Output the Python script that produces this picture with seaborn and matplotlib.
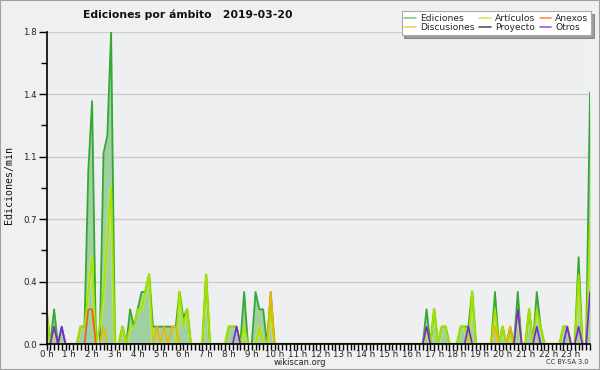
import numpy as np
import pandas as pd
import matplotlib
matplotlib.use("Agg")
import matplotlib.pyplot as plt
from matplotlib.patches import Rectangle
from matplotlib.lines import Line2D
from matplotlib.ticker import FixedLocator, MultipleLocator
import seaborn as sns

# 10-minute buckets, 6 per hour (values = ediciones por minuto)
ediciones = [
    0.2, 0.0, 0.2, 0.0, 0.1, 0.0,     # 0 h
    0.0, 0.0, 0.0, 0.1, 0.1, 1.0,     # 1 h
    1.4, 0.0, 0.0, 1.1, 1.2, 1.8,     # 2 h
    0.0, 0.0, 0.1, 0.0, 0.2, 0.1,     # 3 h
    0.2, 0.3, 0.3, 0.4, 0.1, 0.1,     # 4 h
    0.1, 0.1, 0.1, 0.1, 0.1, 0.3,     # 5 h
    0.15, 0.2, 0.0, 0.0, 0.0, 0.0,    # 6 h
    0.4, 0.0, 0.0, 0.0, 0.0, 0.0,     # 7 h
    0.1, 0.1, 0.1, 0.0, 0.3, 0.0,     # 8 h
    0.0, 0.3, 0.2, 0.2, 0.0, 0.3,     # 9 h
    0.0, 0.0, 0.0, 0.0, 0.0, 0.0,     # 10 h
    0.0, 0.0, 0.0, 0.0, 0.0, 0.0,     # 11 h
    0.0, 0.0, 0.0, 0.0, 0.0, 0.0,     # 12 h
    0.0, 0.0, 0.0, 0.0, 0.0, 0.0,     # 13 h
    0.0, 0.0, 0.0, 0.0, 0.0, 0.0,     # 14 h
    0.0, 0.0, 0.0, 0.0, 0.0, 0.0,     # 15 h
    0.0, 0.0, 0.0, 0.0, 0.2, 0.0,     # 16 h
    0.2, 0.0, 0.1, 0.1, 0.0, 0.0,     # 17 h
    0.0, 0.1, 0.1, 0.1, 0.3, 0.0,     # 18 h
    0.0, 0.0, 0.0, 0.0, 0.3, 0.0,     # 19 h
    0.1, 0.0, 0.1, 0.0, 0.3, 0.0,     # 20 h
    0.0, 0.2, 0.0, 0.3, 0.1, 0.0,     # 21 h
    0.0, 0.0, 0.0, 0.0, 0.1, 0.1,     # 22 h
    0.0, 0.0, 0.5, 0.0, 0.0, 1.45,    # 23 h
]
articulos = [
    0.2, 0.0, 0.1, 0.0, 0.0, 0.0,
    0.0, 0.0, 0.0, 0.1, 0.1, 0.3,
    0.5, 0.0, 0.1, 0.3, 0.6, 0.9,
    0.0, 0.0, 0.1, 0.0, 0.1, 0.1,
    0.2, 0.2, 0.3, 0.4, 0.0, 0.0,
    0.0, 0.0, 0.0, 0.0, 0.0, 0.3,
    0.1, 0.2, 0.0, 0.0, 0.0, 0.0,
    0.4, 0.0, 0.0, 0.0, 0.0, 0.0,
    0.1, 0.1, 0.1, 0.0, 0.1, 0.0,
    0.0, 0.0, 0.1, 0.0, 0.0, 0.2,
    0.0, 0.0, 0.0, 0.0, 0.0, 0.0,
    0.0, 0.0, 0.0, 0.0, 0.0, 0.0,
    0.0, 0.0, 0.0, 0.0, 0.0, 0.0,
    0.0, 0.0, 0.0, 0.0, 0.0, 0.0,
    0.0, 0.0, 0.0, 0.0, 0.0, 0.0,
    0.0, 0.0, 0.0, 0.0, 0.0, 0.0,
    0.0, 0.0, 0.0, 0.0, 0.1, 0.0,
    0.2, 0.0, 0.1, 0.1, 0.0, 0.0,
    0.0, 0.1, 0.1, 0.0, 0.3, 0.0,
    0.0, 0.0, 0.0, 0.0, 0.2, 0.0,
    0.1, 0.0, 0.05, 0.0, 0.2, 0.0,
    0.0, 0.2, 0.0, 0.2, 0.1, 0.0,
    0.0, 0.0, 0.0, 0.0, 0.1, 0.1,
    0.0, 0.0, 0.4, 0.0, 0.0, 0.7,
]
anexos_idx = [11, 12]
anexos_val = [0.2, 0.2]
discusiones_idx = [15, 29, 31, 33, 34, 59, 118, 122]
discusiones_val = [0.1, 0.1, 0.1, 0.1, 0.1, 0.3, 0.1, 0.1]
proyecto_idx = []
proyecto_val = []
otros_idx = [2, 4, 50, 100, 111, 124, 129, 137, 140, 143]
otros_val = [0.1, 0.1, 0.1, 0.1, 0.1, 0.2, 0.1, 0.1, 0.1, 0.3]

hour_labels = [f"{h} h" for h in range(24)]
y_ticks = [0.0, 0.36, 0.72, 1.08, 1.44, 1.8]
y_labels = ["0.0", "0.4", "0.7", "1.1", "1.4", "1.8"]

n = len(ediciones)
idx = np.arange(n)

def sparse(ix, vals):
    arr = np.zeros(n)
    for i, v in zip(ix, vals):
        arr[i] = v
    return arr

series = {
    "Ediciones": np.array(ediciones),
    "Artículos": np.array(articulos),
    "Anexos": sparse(anexos_idx, anexos_val),
    "Discusiones": sparse(discusiones_idx, discusiones_val),
    "Proyecto": sparse(proyecto_idx, proyecto_val),
    "Otros": sparse(otros_idx, otros_val),
}
colors = {
    "Ediciones": "#33a833",
    "Artículos": "#a8e000",
    "Anexos": "#f05a1e",
    "Discusiones": "#f0b400",
    "Proyecto": "#505050",
    "Otros": "#7a22e0",
}
legend_colors = {
    "Ediciones": "#88cc88",
    "Artículos": "#cdee55",
    "Anexos": "#ff8855",
    "Discusiones": "#ffd04a",
    "Proyecto": "#555555",
    "Otros": "#9a55ee",
}

sns.set_theme(style="white")
plt.rcParams["font.family"] = ["DejaVu Sans"]

fig = plt.figure(figsize=(6, 3.7), dpi=100, facecolor="#f0f0f0")
ax = fig.add_axes([46.5 / 600, 1 - 344 / 370, (590 - 46.5) / 600, (344 - 31.7) / 370])
ax.set_facecolor("#eeeff1")

ax.fill_between(idx, series["Ediciones"], 0, color="#a0cfa0", lw=0, zorder=1)

df = pd.DataFrame({"i": idx})
for name in ["Ediciones", "Proyecto", "Anexos", "Discusiones", "Otros", "Artículos"]:
    df[name] = series[name]
sns.lineplot(data=df, x="i", y="Artículos", color="#ccf266", lw=2.6, alpha=0.6, ax=ax, zorder=2)
sns.lineplot(data=df, x="i", y="Ediciones", color=colors["Ediciones"], lw=1.3, ax=ax, zorder=2.1)
sns.lineplot(data=df, x="i", y="Artículos", color=colors["Artículos"], lw=1.3, ax=ax, zorder=2.2)
for name in ["Proyecto", "Anexos", "Discusiones", "Otros"]:
    sns.lineplot(data=df, x="i", y=name, color=colors[name], lw=1.2, ax=ax, zorder=2.3)

ax.set_xlim(0, n - 1)
ax.set_ylim(0, 1.8)
ax.set_xlabel("")
ax.set_ylabel("")

for s in ["top", "right"]:
    ax.spines[s].set_visible(False)
for s in ["left", "bottom"]:
    ax.spines[s].set_color("black")
    ax.spines[s].set_linewidth(1.2)
    ax.spines[s].set_zorder(5)

ax.set_yticks(y_ticks)
ax.set_yticklabels(y_labels, fontsize=6.2, color="#222222")
ax.yaxis.set_minor_locator(FixedLocator([0.18, 0.54, 0.90, 1.26, 1.62]))
ax.set_xticks(np.arange(0, 144, 6))
ax.set_xticklabels(hour_labels, fontsize=6.2, color="#222222")
ax.xaxis.set_minor_locator(MultipleLocator(1))
ax.tick_params(axis="y", which="major", direction="out", length=6, width=1, color="black", pad=1, left=True)
ax.tick_params(axis="y", which="minor", direction="out", length=4, width=1, color="black", left=True)
ax.tick_params(axis="x", which="major", direction="out", length=4, width=1, color="black", pad=0.2, bottom=True)
ax.tick_params(axis="x", which="minor", direction="out", length=4, width=1, color="black", bottom=True)
ax.grid(axis="y", which="major", color="#cccccc", lw=1)
ax.set_axisbelow(True)

fig.text(188 / 600, 1 - 15 / 370, "Ediciones por ámbito   2019-03-20", fontsize=7.8,
         fontweight="bold", ha="center", va="center", color="#111111")
fig.text(9 / 600, 1 - 185 / 370, "Ediciones/min", rotation=90, fontsize=7.2,
         family="DejaVu Sans Mono", ha="center", va="center", color="#111111")
fig.text(300 / 600, 1 - 362.5 / 370, "wikiscan.org", fontsize=6, ha="center", va="center", color="#222222")
fig.text(589 / 600, 1 - 362.5 / 370, "CC BY-SA 3.0", fontsize=4.8, ha="right", va="center", color="#333333")

order = ["Ediciones", "Discusiones", "Artículos", "Proyecto", "Anexos", "Otros"]
handles = [Line2D([0], [0], color=legend_colors[k], lw=1.2) for k in order]
leg = fig.legend(handles, order, loc="upper right", bbox_to_anchor=(591 / 600, 1 - 11 / 370),
                 ncol=3, fontsize=6.6, frameon=True, shadow=True, fancybox=False,
                 handlelength=1.3, handletextpad=0.4, columnspacing=0.5, labelspacing=0.05,
                 borderpad=0.3, borderaxespad=0)
leg.get_frame().set_edgecolor("#aaaaaa")
leg.get_frame().set_facecolor("white")
leg.get_frame().set_linewidth(0.8)

fig.patches.append(Rectangle((0, 0), 1, 1, transform=fig.transFigure, fill=False,
                             edgecolor="#a0a0a0", lw=1.5))

fig.savefig("out.png", dpi=100, facecolor=fig.get_facecolor())
